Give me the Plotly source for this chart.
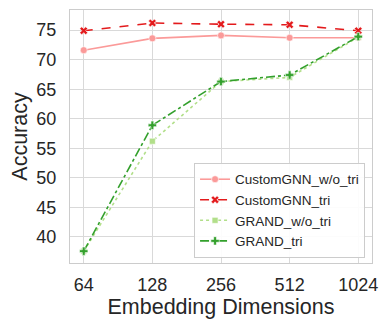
import plotly.graph_objs as go

dims = ["64", "128", "256", "512", "1024"]
custom_wo_tri = [71.6, 73.6, 74.1, 73.7, 73.7]
custom_tri = [74.9, 76.2, 76.0, 75.9, 74.9]
grand_wo_tri = [37.6, 56.2, 66.3, 67.0, 73.8]
grand_tri = [37.6, 58.9, 66.3, 67.4, 73.9]

series = [
    ("CustomGNN_w/o_tri", custom_wo_tri, "#fb9a99", "solid", "circle", 7),
    ("CustomGNN_tri", custom_tri, "#e31a1c", "dash", "x", 7),
    ("GRAND_w/o_tri", grand_wo_tri, "#b2df8a", "dot", "square", 6),
    ("GRAND_tri", grand_tri, "#33a02c", "dashdot", "cross", 7),
]

fig = go.Figure()
for name, vals, color, dash, symbol, size in series:
    fig.add_trace(go.Scatter(
        x=dims, y=vals, name=name, mode="lines+markers",
        line=dict(color=color, width=1.6, dash=dash),
        marker=dict(symbol=symbol, size=size, color=color,
                    line=dict(color="white", width=0.6)),
    ))

# the page body has an 8px margin, so the figure is a bit smaller
fig.update_layout(
    width=382, height=322,
    margin=dict(l=62, r=18, t=2, b=67),
    paper_bgcolor="white", plot_bgcolor="white",
    font=dict(family="Liberation Sans, Arial, sans-serif", color="#262626", size=18),
    legend=dict(
        x=0.977, y=0.02, xanchor="right", yanchor="bottom",
        bgcolor="rgba(255,255,255,0.9)", bordercolor="#cccccc", borderwidth=1,
        font=dict(size=13.5), tracegroupgap=0,
    ),
)
fig.update_xaxes(
    type="category", range=[-0.2, 4.2],
    title=dict(text="Embedding Dimensions", font=dict(size=21.5), standoff=5),
    showgrid=True, gridcolor="#d9d9d9", gridwidth=1,
    showline=True, linecolor="#cccccc", linewidth=1.2, mirror=True,
    ticks="", tickfont=dict(size=18), ticklabelstandoff=5,
)
fig.update_yaxes(
    range=[35.6, 78.4], tickvals=[40, 45, 50, 55, 60, 65, 70, 75],
    title=dict(text="Accuracy", font=dict(size=21.5), standoff=4),
    showgrid=True, gridcolor="#d9d9d9", gridwidth=1,
    showline=True, linecolor="#cccccc", linewidth=1.2, mirror=True,
    ticks="", tickfont=dict(size=18), zeroline=False, ticklabelstandoff=9,
)

fig.write_html("out.html")
